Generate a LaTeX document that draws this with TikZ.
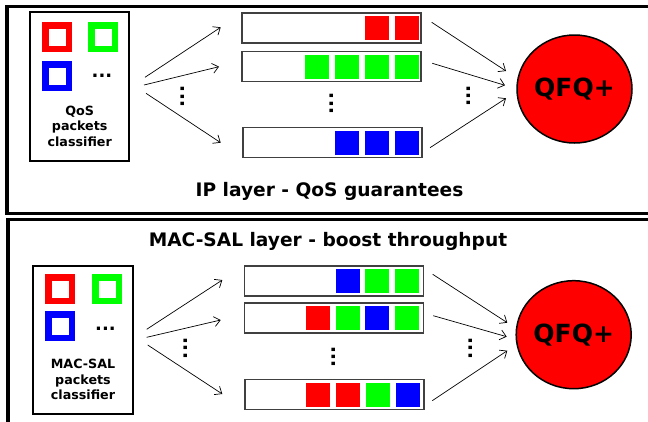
\documentclass[tikz,border=0pt]{standalone}
\usepackage{fontspec}
\setmainfont{DejaVu Sans}
\usetikzlibrary{arrows.meta,shapes.geometric}
\definecolor{pred}{RGB}{255,0,0}
\definecolor{pgreen}{RGB}{0,255,0}
\definecolor{pblue}{RGB}{0,0,255}
\begin{document}
\begin{tikzpicture}[x=1pt,y=-1pt,
  layerbox/.style={draw=black,line width=3.5pt},
  clsbox/.style={draw=black,line width=1.5pt,minimum width=99pt,minimum height=149pt,inner sep=0pt},
  sq/.style={draw=#1,line width=6.5pt,minimum size=23.5pt,inner sep=0pt},
  qbox/.style={draw=black!75,line width=1.1pt,minimum width=179pt,minimum height=30pt,inner sep=0pt},
  cell/.style={fill=#1,minimum size=24pt,inner sep=0pt},
  arr/.style={-{Straight Barb[length=6pt,width=10pt]},line width=0.7pt},
  qfq/.style={ellipse,draw=black,line width=1.5pt,fill=pred,minimum width=115pt,minimum height=108pt,inner sep=0pt,font=\fontsize{25}{28}\selectfont\bfseries},
  clstext/.style={align=center,inner sep=0pt,anchor=north,font=\fontsize{12.7}{15.7}\selectfont\bfseries},
  title/.style={inner sep=0pt,anchor=base,font=\fontsize{18.6}{20}\selectfont\bfseries},
  hdots/.style={inner sep=0pt,font=\fontsize{18}{20}\selectfont\bfseries},
  vdots/.style={inner sep=0pt,rotate=90,font=\fontsize{19}{20}\selectfont\bfseries}
]
\useasboundingbox (0,0) rectangle (648,421);
\clip (0,0) rectangle (648,421);
\fill[white] (0,0) rectangle (648,421);

% layer frames
\draw[layerbox] (7,6.7) rectangle (700,213.5);
\draw[layerbox] (8,219.5) rectangle (700,500);

% ---------------- IP layer ----------------
\node[clsbox] (clsA) at (79.5,86.5) {};
\node[sq=pred] (sA1) at (57,37) {};
\node[sq=pgreen] (sA2) at (103,37) {};
\node[sq=pblue] (sA3) at (57,76) {};
\node[hdots] (dA) at (102,76) {...};
\node[clstext] (tA) at (79.7,105.5) {QoS\\packets\\classifier};

\node[qbox] (qA1) at (331.5,28) {};
\node[qbox] (qA2) at (331.5,66.5) {};
\node[qbox] (qA3) at (332.5,142.5) {};
\node[cell=pred] at (376.5,28) {};
\node[cell=pred] at (406.5,28) {};
\node[cell=pgreen] at (317,66.5) {};
\node[cell=pgreen] at (347,66.5) {};
\node[cell=pgreen] at (377,66.5) {};
\node[cell=pgreen] at (406.5,66.5) {};
\node[cell=pblue] at (347,143) {};
\node[cell=pblue] at (377,143) {};
\node[cell=pblue] at (407,143) {};
\node[vdots] (vA1) at (183,96.5) {...};
\node[vdots] (vA2) at (331.7,103.5) {...};
\node[vdots] (vA3) at (469,96) {...};

\node[qfq] (qfqA) at (574.5,89) {QFQ+};

\coordinate (aA1s) at (145,77.3);   \coordinate (aA1e) at (220.7,27.3);
\coordinate (aA2s) at (144,85);     \coordinate (aA2e) at (219,66.7);
\coordinate (aA3s) at (146,93.3);   \coordinate (aA3e) at (220.7,142.7);
\draw[arr] (aA1s) -- (aA1e);
\draw[arr] (aA2s) -- (aA2e);
\draw[arr] (aA3s) -- (aA3e);
\coordinate (bA1s) at (431.7,22.3); \coordinate (bA1e) at (506,71);
\coordinate (bA2s) at (432.3,63.3); \coordinate (bA2e) at (505,85.3);
\coordinate (bA3s) at (430,147.7);  \coordinate (bA3e) at (506,98.3);
\draw[arr] (bA1s) -- (bA1e);
\draw[arr] (bA2s) -- (bA2e);
\draw[arr] (bA3s) -- (bA3e);

\node[title] (titleA) at (329.5,196.7) {IP layer - QoS guarantees};

% ---------------- MAC-SAL layer ----------------
\node[title] (titleB) at (328,246.7) {MAC-SAL layer - boost throughput};

\node[clsbox,minimum width=100pt,minimum height=148pt] (clsB) at (83,340) {};
\node[sq=pred] (sB1) at (60,289) {};
\node[sq=pgreen] (sB2) at (107,289) {};
\node[sq=pblue] (sB3) at (60,326) {};
\node[hdots] (dB) at (105.5,328.3) {...};
\node[clstext,font=\fontsize{12.7}{15.5}\selectfont\bfseries] (tB) at (83,359.3) {MAC-SAL\\packets\\classifier};

\node[qbox] (qB1) at (333.7,281) {};
\node[qbox] (qB2) at (333.7,318) {};
\node[qbox] (qB3) at (334.5,394.7) {};
\node[cell=pblue] at (347.7,281) {};
\node[cell=pgreen] at (377,281) {};
\node[cell=pgreen] at (407,281) {};
\node[cell=pred] at (318,318) {};
\node[cell=pgreen] at (348,318) {};
\node[cell=pblue] at (377,318) {};
\node[cell=pgreen] at (407,318) {};
\node[cell=pred] at (318,394.7) {};
\node[cell=pred] at (348,394.7) {};
\node[cell=pgreen] at (378,394.7) {};
\node[cell=pblue] at (408,394.7) {};
\node[vdots] (vB1) at (185.7,348.3) {...};
\node[vdots] (vB2) at (333.7,356.7) {...};
\node[vdots] (vB3) at (470.7,348.3) {...};

\node[qfq] (qfqB) at (573.7,334.7) {QFQ+};

\coordinate (aB1s) at (146.7,329.3); \coordinate (aB1e) at (222.3,280);
\coordinate (aB2s) at (146.7,337.3); \coordinate (aB2e) at (220.7,320);
\coordinate (aB3s) at (147.7,345);   \coordinate (aB3e) at (222.3,394);
\draw[arr] (aB1s) -- (aB1e);
\draw[arr] (aB2s) -- (aB2e);
\draw[arr] (aB3s) -- (aB3e);
\coordinate (bB1s) at (432.7,274.3); \coordinate (bB1e) at (507.3,322.7);
\coordinate (bB2s) at (433.3,315.7); \coordinate (bB2e) at (506.7,336.7);
\coordinate (bB3s) at (432.3,400.7); \coordinate (bB3e) at (507.3,350.7);
\draw[arr] (bB1s) -- (bB1e);
\draw[arr] (bB2s) -- (bB2e);
\draw[arr] (bB3s) -- (bB3e);
\end{tikzpicture}
\end{document}
